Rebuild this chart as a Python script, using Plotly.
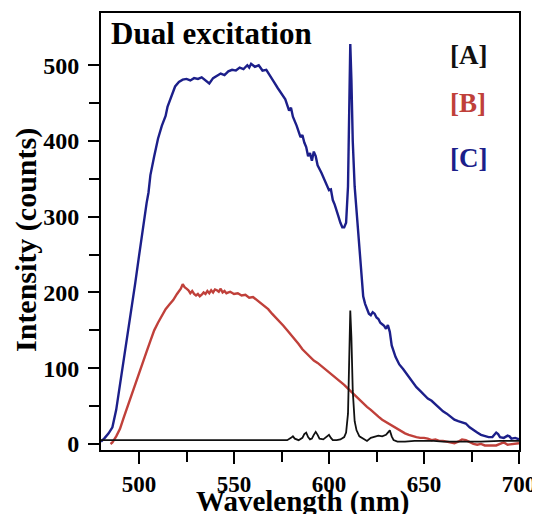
import plotly.graph_objects as go

# Series [C] (blue)
c_x = [480, 481, 482, 484, 486, 488, 490, 492, 494, 496, 498, 500, 502, 504, 505, 506, 508, 510, 512, 514, 515, 517, 519, 521, 523, 525, 527, 529, 531, 533, 535, 537, 539, 541, 543, 545, 547, 549, 551, 553, 555, 557, 558, 559, 561, 563, 565, 567, 569, 571, 573, 575, 577, 579, 580, 581, 583, 585, 586, 587, 588, 589, 590, 591, 592, 593, 594, 596, 598, 599, 600, 601, 602, 603, 604, 605, 606, 607, 608, 609, 610, 610.6, 611.2, 611.8, 612.5, 613.5, 615, 616, 617, 618, 619, 620, 621, 622, 623, 624, 625, 626, 627, 628, 629, 630, 631, 632, 633, 635, 637, 639, 641, 643, 645, 646, 648, 650, 652, 654, 656, 658, 660, 662, 664, 666, 668, 670, 672, 674, 676, 678, 680, 682, 684, 686, 688, 689, 690, 692, 694, 695, 696, 698, 700]
c_y = [3, 5, 8, 14, 22, 45, 78, 110, 140, 175, 212, 248, 285, 318, 332, 355, 380, 403, 420, 433, 445, 458, 472, 478, 481, 482, 480, 483, 482, 484, 480, 476, 483, 486, 489, 487, 492, 494, 493, 497, 495, 500, 497, 502, 498, 500, 493, 494, 485, 478, 470, 462, 455, 440, 444, 432, 420, 405, 408, 398, 392, 380, 384, 374, 386, 380, 368, 358, 346, 340, 335, 336, 322, 316, 306, 300, 292, 286, 286, 292, 340, 430, 528, 480, 400, 340, 290, 250, 220, 195, 185, 178, 172, 170, 174, 172, 167, 165, 160, 158, 156, 152, 157, 148, 130, 115, 105, 99, 92, 85, 79, 75, 70, 65, 60, 57, 52, 48, 43, 40, 36, 32, 30, 28, 27, 22, 18, 15, 12, 10, 9, 9, 15, 13, 9, 8, 11, 10, 7, 8, 6]

# Series [B] (red)
b_x = [485, 486, 488, 490, 492, 494, 496, 498, 500, 502, 504, 506, 508, 510, 512, 514, 516, 518, 520, 522, 523, 524, 525, 526, 527, 528, 529, 530, 531, 532, 533, 534, 535, 536, 537, 538, 539, 540, 541, 542, 543, 544, 545, 546, 548, 550, 552, 554, 556, 558, 560, 562, 564, 566, 568, 570, 572, 574, 576, 578, 580, 582, 584, 586, 588, 590, 592, 594, 596, 598, 600, 602, 604, 606, 608, 610, 612, 614, 616, 618, 620, 622, 624, 626, 628, 630, 632, 634, 636, 638, 640, 642, 644, 646, 648, 650, 652, 654, 656, 658, 660, 662, 664, 666, 668, 670, 672, 674, 676, 678, 680, 682, 684, 686, 688, 690, 692, 694, 696, 698, 700]
b_y = [0, 2, 10, 20, 35, 50, 64, 78, 92, 108, 122, 136, 150, 160, 170, 178, 184, 190, 198, 205, 211, 207, 205, 203, 199, 202, 198, 196, 198, 195, 197, 200, 198, 202, 199, 203, 200, 204, 203, 201, 205, 200, 202, 199, 201, 198, 199, 196, 197, 193, 194, 190, 186, 182, 178, 172, 167, 161, 156, 150, 144, 139, 132, 125, 120, 114, 110, 107, 103, 99, 95, 91, 86, 82, 78, 73, 68, 64, 59, 54, 49, 45, 40, 36, 32, 29, 26, 22, 20, 17, 14, 12, 10, 9, 8, 8, 7, 5, 6, 4, 4, 3, 2, 1, 3, 6, 5, 2, 0, -1, 0, -2, -2, -3, -2, 0, 2, -1, 0, 1, 1]

# Series [A] (black)
a_x = [480, 490, 500, 510, 520, 530, 533, 535, 545, 560, 575, 578, 580, 581, 582, 584, 586, 587, 588, 589, 590, 591, 592, 593, 594, 595, 597, 598, 599, 600, 601, 602, 604, 606, 608, 609, 610, 610.6, 611.2, 611.8, 612.5, 613.5, 614.5, 616, 618, 620, 622, 624, 626, 628, 630, 631, 632, 633, 634, 636, 640, 645, 650, 655, 660, 670, 680, 690, 700]
a_y = [5, 5, 5, 5, 5, 5, 6, 5, 5, 5, 5, 5, 8, 10, 7, 5, 8, 13, 15, 9, 6, 7, 12, 16, 12, 7, 6, 8, 11, 12, 8, 5, 5, 6, 9, 15, 40, 110, 176, 140, 70, 30, 18, 10, 7, 4, 8, 10, 11, 10, 12, 15, 18, 10, 5, 3, 3, 4, 4, 4, 3, 3, 3, 4, 4]

labels = ["[A]", "[B]", "[C]"]
x_ticks = [500, 550, 600, 650, 700]
y_ticks = [0, 100, 200, 300, 400, 500]

FONT = "Liberation Serif"
BLUE = "#1c1f8a"
RED = "#c0403a"
BLACK = "#111111"

fig = go.Figure()
fig.add_trace(go.Scatter(x=b_x, y=b_y, mode="lines", line=dict(color=RED, width=2.4), name=labels[1]))
fig.add_trace(go.Scatter(x=c_x, y=c_y, mode="lines", line=dict(color=BLUE, width=2.4), name=labels[2]))
fig.add_trace(go.Scatter(x=a_x, y=a_y, mode="lines", line=dict(color=BLACK, width=1.8), name=labels[0]))

fig.add_annotation(text="<b>Dual excitation</b>", xref="paper", yref="paper", x=0.02, y=0.954,
                   xanchor="left", yanchor="middle", showarrow=False,
                   font=dict(family=FONT, size=31, color="black"))
for lab, col, yy in zip(labels, [BLACK, RED, BLUE], [0.904, 0.794, 0.668]):
    fig.add_annotation(text="<b>" + lab + "</b>", xref="paper", yref="paper", x=0.878, y=yy,
                       xanchor="center", yanchor="middle", showarrow=False,
                       font=dict(family=FONT, size=27, color=col))

# axis titles
fig.add_annotation(text="<b>Wavelength (nm)</b>", xref="paper", yref="paper", x=0.481, y=-0.118,
                   xanchor="center", yanchor="middle", showarrow=False,
                   font=dict(family=FONT, size=29, color="black"))
fig.add_annotation(text="<b>Intensity (counts)</b>", xref="paper", yref="paper", x=-0.179, y=0.481,
                   xanchor="center", yanchor="middle", showarrow=False, textangle=-90,
                   font=dict(family=FONT, size=30, color="black"))

fig.update_layout(
    width=532, height=506,
    margin=dict(l=93, r=21, t=5, b=64),
    plot_bgcolor="white", paper_bgcolor="white",
    showlegend=False,
    font=dict(family=FONT, color="black"),
    xaxis=dict(
        range=[480, 700], tickvals=x_ticks, ticktext=["<b>%d</b>" % v for v in x_ticks],
        automargin=False,
        showgrid=False, zeroline=False, showline=True, linecolor="black", linewidth=2, mirror=True,
        ticks="outside", ticklen=12, tickwidth=2, tickcolor="black",
        minor=dict(tickvals=[525, 575, 625, 675], ticks="outside", ticklen=10, tickwidth=2, tickcolor="black"),
        tickfont=dict(family=FONT, size=23, color="black"),
    ),
    yaxis=dict(
        range=[-8, 569], tickvals=y_ticks, ticktext=["<b>%d</b>" % v for v in y_ticks],
        automargin=False,
        showgrid=False, zeroline=False, showline=True, linecolor="black", linewidth=2, mirror=True,
        ticks="outside", ticklen=11, tickwidth=2, tickcolor="black", ticklabelstandoff=4,
        minor=dict(tickvals=[50, 150, 250, 350, 450], ticks="outside", ticklen=10, tickwidth=2, tickcolor="black"),
        tickfont=dict(family=FONT, size=24, color="black"),
    ),
)

fig.write_html("out.html")
